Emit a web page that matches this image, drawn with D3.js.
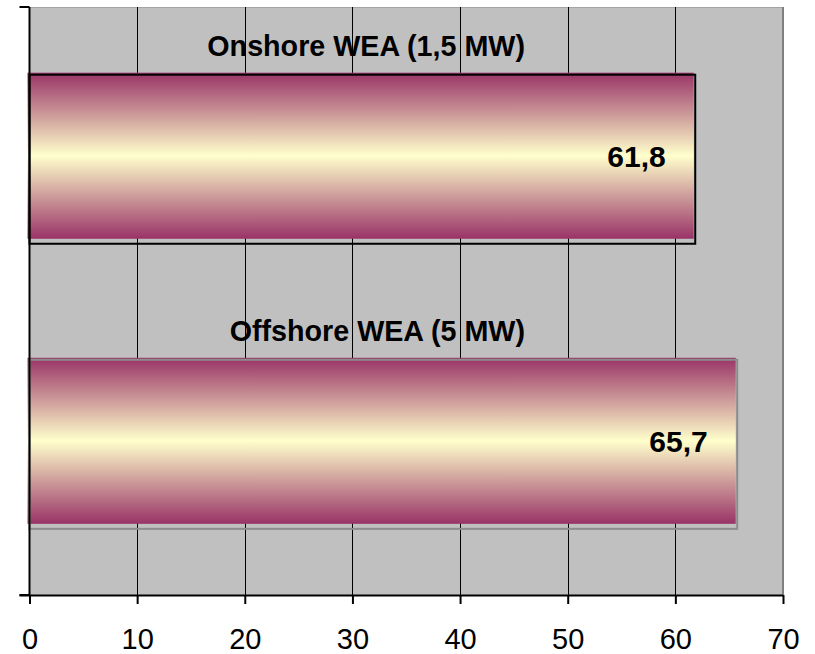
<!DOCTYPE html>
<html>
<head>
<meta charset="utf-8">
<script src="https://cdn.jsdelivr.net/npm/d3@7"></script>
<style>
  html, body { margin: 0; padding: 0; background: #fff; }
  svg { display: block; font-family: "Liberation Sans", Arial, sans-serif; }
</style>
</head>
<body>
<svg id="chart" width="815" height="654"></svg>
<script>
// Chart data
const categories = ["Onshore WEA (1,5 MW)", "Offshore WEA (5 MW)"];
const values = [61.8, 65.7];
const valueLabels = ["61,8", "65,7"];
const xTicks = [0, 10, 20, 30, 40, 50, 60, 70];

const svg = d3.select("#chart");
const plot = { left: 29.5, right: 783, top: 7, bottom: 595 };

const x = d3.scaleLinear().domain([0, 70]).range([plot.left, plot.right]);
const y = d3.scaleBand().domain(categories)
  .range([plot.top, plot.bottom])
  .paddingInner(0.4175).paddingOuter(0.24).align(0.48);

// Vertical gradient: plum at the edges, pale yellow in the middle
const defs = svg.append("defs");
const grad = defs.append("linearGradient").attr("id", "barFill")
  .attr("x1", 0).attr("y1", 0).attr("x2", 0).attr("y2", 1);
grad.append("stop").attr("offset", "0%").attr("stop-color", "#993366");
grad.append("stop").attr("offset", "50%").attr("stop-color", "#FFFFCC");
grad.append("stop").attr("offset", "100%").attr("stop-color", "#993366");

// Plot area background
svg.append("rect")
  .attr("x", plot.left).attr("y", plot.top)
  .attr("width", plot.right - plot.left).attr("height", plot.bottom - plot.top)
  .attr("fill", "#C0C0C0");
svg.append("line")
  .attr("x1", plot.left).attr("x2", plot.right)
  .attr("y1", plot.top + 0.5).attr("y2", plot.top + 0.5)
  .attr("stroke", "#a4a4a4").attr("stroke-width", 1);
svg.append("line")
  .attr("x1", plot.right).attr("x2", plot.right)
  .attr("y1", plot.top).attr("y2", plot.bottom)
  .attr("stroke", "#808080").attr("stroke-width", 2);

// Vertical gridlines
svg.append("g").selectAll("line")
  .data(xTicks.filter(d => d > 0 && d < 70))
  .join("line")
  .attr("x1", d => Math.round(x(d)) + 0.5).attr("x2", d => Math.round(x(d)) + 0.5)
  .attr("y1", plot.top).attr("y2", plot.bottom)
  .attr("stroke", "#000").attr("stroke-width", 1);

// Bars
const outlineColors = ["#000000", "#8c8c8c"];
const bars = svg.append("g").selectAll("g")
  .data(categories.map((c, i) => ({ c, v: values[i], label: valueLabels[i], i })))
  .join("g");

bars.append("rect")
  .attr("x", x(0) - 2)
  .attr("y", d => y(d.c))
  .attr("width", d => x(d.v) - x(0) + 1)
  .attr("height", y.bandwidth())
  .attr("fill", "url(#barFill)");

bars.append("rect")
  .attr("x", x(0))
  .attr("y", d => y(d.c) + 2)
  .attr("width", d => x(d.v) - x(0) + 0.5)
  .attr("height", y.bandwidth() + 3)
  .attr("fill", "none")
  .attr("stroke", d => outlineColors[d.i])
  .attr("stroke-width", 2);

// Value labels inside the bar ends
bars.append("text")
  .attr("x", d => x(d.v) - 29)
  .attr("y", d => y(d.c) + y.bandwidth() / 2 + 11)
  .attr("text-anchor", "end")
  .attr("font-size", 30)
  .attr("font-weight", "bold")
  .attr("fill", "#000")
  .text(d => d.label);

// Category labels above each bar
bars.append("text")
  .attr("x", 525)
  .attr("y", d => y(d.c) - 17)
  .attr("text-anchor", "end")
  .attr("font-size", 28.7)
  .attr("font-weight", "bold")
  .attr("fill", "#000")
  .text(d => d.c);

// Left axis line with end ticks
const leftAxis = svg.append("g").attr("stroke", "#000").attr("stroke-width", 2);
leftAxis.append("line")
  .attr("x1", plot.left).attr("x2", plot.left)
  .attr("y1", plot.top).attr("y2", plot.bottom);
leftAxis.selectAll("line.tick")
  .data([plot.top, plot.bottom])
  .join("line").attr("class", "tick")
  .attr("x1", plot.left - 10).attr("x2", plot.left)
  .attr("y1", d => d).attr("y2", d => d);

// Bottom value axis
const xAxis = d3.axisBottom(x)
  .tickValues(xTicks)
  .tickSize(9)
  .tickPadding(24)
  .tickFormat(d3.format("d"));
const gx = svg.append("g")
  .attr("transform", `translate(0,${plot.bottom})`)
  .call(xAxis);
gx.select(".domain")
  .attr("d", `M${plot.left - 10},0.5H${plot.right}`)
  .attr("stroke", "#000").attr("stroke-width", 2);
gx.selectAll(".tick line").attr("stroke", "#000").attr("stroke-width", 2);
gx.selectAll(".tick text")
  .attr("font-size", 29)
  .attr("font-family", "Liberation Sans, Arial, sans-serif")
  .attr("fill", "#000");
</script>
</body>
</html>
